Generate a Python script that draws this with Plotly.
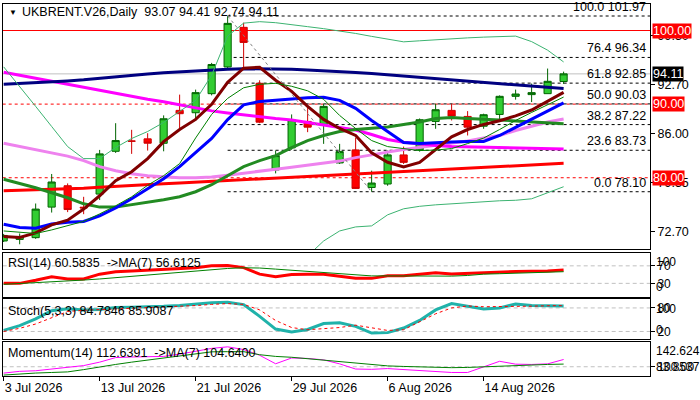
import plotly.graph_objects as go

# Daily bars (weekdays)
dates = ['3 Jul 2026', '6 Jul 2026', '7 Jul 2026', '8 Jul 2026', '9 Jul 2026', '10 Jul 2026',
         '13 Jul 2026', '14 Jul 2026', '15 Jul 2026', '16 Jul 2026', '17 Jul 2026',
         '20 Jul 2026', '21 Jul 2026', '22 Jul 2026', '23 Jul 2026', '24 Jul 2026',
         '27 Jul 2026', '28 Jul 2026', '29 Jul 2026', '30 Jul 2026', '31 Jul 2026',
         '3 Aug 2026', '4 Aug 2026', '5 Aug 2026', '6 Aug 2026', '7 Aug 2026',
         '10 Aug 2026', '11 Aug 2026', '12 Aug 2026', '13 Aug 2026', '14 Aug 2026',
         '17 Aug 2026', '18 Aug 2026', '19 Aug 2026', '20 Aug 2026', '21 Aug 2026']

opens = [71.41, 71.62, 71.86, 76.01, 78.91, 76.00, 77.78, 83.59, 85.00, 85.28, 84.68, 89.15,
         88.83, 91.42, 95.05, 100.43, 92.83, 81.06, 84.06, 87.65, 87.24, 82.01, 83.78, 78.68,
         79.15, 83.10, 83.78, 87.65, 89.15, 88.33, 87.00, 88.60, 91.06, 91.29, 91.42, 93.07]
highs = [72.37, 72.43, 76.50, 80.51, 79.23, 77.41, 83.78, 87.41, 86.51, 86.05, 88.47, 91.29,
         91.97, 95.60, 101.97, 101.06, 93.24, 83.69, 88.60, 89.46, 90.06, 84.60, 85.42, 80.96,
         83.69, 84.23, 88.05, 90.06, 90.06, 89.05, 88.70, 91.19, 91.97, 92.79, 94.83, 94.41]
lows = [71.27, 70.96, 71.70, 75.27, 75.33, 75.05, 76.97, 83.37, 83.24, 83.69, 83.59, 86.42,
        87.78, 91.19, 94.90, 95.05, 87.41, 80.59, 83.80, 86.19, 84.60, 81.87, 78.50, 78.10,
        78.91, 81.87, 83.55, 86.65, 87.78, 85.74, 86.65, 87.78, 90.61, 90.28, 91.42, 92.74]
closes = [72.16, 72.02, 75.74, 79.42, 75.68, 75.90, 83.24, 85.05, 84.96, 84.69, 88.01, 88.70,
          91.56, 95.38, 100.97, 98.38, 87.55, 83.01, 87.88, 86.87, 89.69, 83.55, 78.55, 79.28,
          83.10, 82.09, 87.88, 89.24, 88.37, 86.87, 88.56, 91.06, 91.37, 91.56, 93.10, 94.11]

# moving averages / bands on the price panel
ma_navy = [92.70, 92.80, 92.90, 93.00, 93.15, 93.30, 93.50, 93.75, 93.95, 94.10, 94.25, 94.40,
           94.50, 94.62, 94.75, 94.81, 94.81, 94.78, 94.72, 94.65, 94.55, 94.43, 94.30, 94.15,
           93.98, 93.82, 93.65, 93.45, 93.28, 93.10, 92.90, 92.75, 92.60, 92.45, 92.28, 92.11]
ma_magenta = [94.33, 93.92, 93.44, 93.03, 92.62, 92.22, 91.87, 91.47, 90.99, 90.65, 90.31, 89.90,
              89.49, 89.08, 88.80, 88.53, 88.26, 88.05, 87.85, 87.51, 87.10, 86.76, 86.49, 85.87,
              85.19, 84.82, 84.58, 84.37, 84.23, 84.20, 84.17, 84.10, 84.06, 84.00, 83.96, 83.92]
ma_violet = [84.68, 84.23, 83.76, 83.35, 82.94, 82.32, 81.51, 80.96, 80.55, 80.28, 80.10, 80.01,
             80.01, 80.10, 80.35, 80.59, 80.89, 81.16, 81.44, 81.71, 81.92, 82.26, 82.73, 83.14,
             83.48, 83.83, 84.10, 84.44, 84.64, 84.99, 85.39, 85.74, 86.42, 86.96, 87.58, 87.99]
ma_red = [78.23, 78.29, 78.37, 78.43, 78.48, 78.57, 78.71, 78.85, 78.94, 79.05, 79.19, 79.28,
          79.39, 79.53, 79.66, 79.73, 79.87, 80.01, 80.10, 80.21, 80.32, 80.41, 80.55, 80.66,
          80.76, 80.89, 81.03, 81.12, 81.23, 81.34, 81.44, 81.55, 81.64, 81.74, 81.85, 81.96]
ma_green = [79.80, 79.26, 78.64, 77.96, 77.28, 76.46, 76.01, 76.01, 76.32, 76.73, 77.00, 77.41,
            78.10, 79.05, 80.28, 81.51, 82.32, 83.01, 84.10, 85.05, 85.74, 86.28, 86.55, 86.76,
            86.89, 87.24, 87.58, 88.05, 88.19, 88.05, 87.99, 87.85, 87.71, 87.58, 87.44, 87.33]
ma_blue = [73.69, 73.25, 73.14, 73.73, 73.96, 74.07, 74.82, 75.91, 77.14, 78.50, 79.87, 81.51,
           83.42, 85.33, 87.90, 89.90, 90.37, 90.58, 90.71, 90.85, 90.92, 90.51, 89.42, 87.78,
           86.28, 84.78, 84.64, 84.78, 84.85, 84.92, 84.92, 85.74, 86.83, 87.92, 89.01, 90.17]
ma_maroon = [72.02, 71.89, 72.50, 73.59, 74.23, 75.74, 77.55, 79.60, 80.82, 82.60, 84.90, 86.55,
             87.92, 89.97, 92.97, 94.88, 95.01, 93.24, 91.74, 89.69, 87.92, 86.69, 85.74, 83.40,
             82.10, 81.45, 82.07, 83.80, 85.55, 86.55, 87.24, 87.75, 88.40, 89.20, 90.35, 91.60]
ma_thin = [72.77, 72.57, 72.43, 72.91, 73.46, 74.07, 75.09, 76.19, 77.41, 78.98, 80.28, 81.92,
           85.40, 88.60, 90.78, 92.22, 92.69, 92.83, 92.42, 91.81, 90.65, 88.46, 86.69, 85.05,
           84.23, 83.92, 83.69, 83.76, 83.96, 84.64, 85.39, 86.55, 87.78, 88.87, 89.96, 90.96]
bb_upper = [95.06, 92.42, 89.69, 86.96, 84.23, 82.60, 82.60, 84.10, 85.33, 86.28, 87.51, 89.01,
            90.50, 93.92, 99.24, 101.00, 101.20, 101.06, 100.84, 100.52, 100.25, 99.95, 99.60, 99.20,
            98.79, 98.46, 98.60, 98.75, 98.90, 99.00, 99.10, 99.18, 99.24, 98.49, 97.33, 95.73]
bb_lower = [None, None, None, None, None, None, None, None, None, None, None, None,
            None, None, None, None, None, None, None, 69.37, 71.41, 72.77, 73.32, 73.46,
            74.96, 75.78, 76.12, 76.32, 76.46, 76.64, 76.73, 76.87, 76.94, 77.14, 77.96, 78.78]

# oscillators
rsi = [30.0, 30.0, 37.0, 45.0, 40.0, 40.0, 51.0, 56.5, 58.0, 60.0, 61.0, 62.5,
       65.5, 70.0, 71.0, 66.0, 51.0, 45.0, 50.0, 50.5, 51.0, 46.0, 41.4, 41.4,
       47.3, 47.3, 51.0, 54.0, 51.5, 53.0, 54.0, 56.4, 57.0, 57.5, 58.0, 60.5835]
rsi_ma = [27.7, 29.5, 31.0, 33.0, 35.5, 37.5, 40.0, 43.0, 46.5, 50.0, 53.0, 56.0,
          59.0, 62.0, 64.0, 65.5, 65.0, 62.5, 60.0, 57.5, 55.0, 52.0, 48.5, 47.0,
          47.0, 46.5, 46.5, 46.5, 46.5, 48.0, 51.0, 52.0, 53.5, 54.0, 55.0, 56.6125]
stoch_k = [22.6, 35.0, 52.0, 73.0, 78.0, 75.0, 76.0, 81.0, 82.0, 82.6, 84.0, 85.9,
           90.0, 93.0, 94.4, 88.5, 58.5, 26.0, 18.5, 25.0, 40.0, 42.0, 33.0, 16.0,
           17.0, 28.7, 48.0, 75.0, 91.0, 85.0, 77.4, 80.0, 90.0, 86.5, 85.0, 84.7846]
stoch_d = [20.0, 28.0, 39.0, 55.0, 71.0, 74.0, 75.6, 77.5, 79.0, 80.0, 81.5, 82.6,
           86.0, 89.0, 91.0, 89.0, 75.0, 48.0, 30.0, 24.4, 27.0, 30.0, 36.0, 29.0,
           22.6, 24.4, 45.0, 65.0, 80.0, 85.0, 83.0, 83.0, 83.0, 84.5, 85.5, 85.9087]
momentum = [88.9, 92.0, 93.0, 96.0, 98.5, 102.0, 108.0, 116.0, 117.0, 117.5, 118.0, 122.0,
            127.0, 132.0, 134.7, 130.0, 120.0, 105.2, 115.3, 114.5, 112.0, 105.0, 96.0, 95.5,
            96.8, 95.0, 94.4, 92.0, 90.0, 90.0, 100.0, 109.5, 104.5, 104.0, 105.0, 112.6391]
momentum_ma = [85.5, 87.5, 89.0, 90.0, 91.0, 95.0, 100.0, 104.0, 108.0, 111.5, 114.5, 118.0,
               122.0, 126.0, 126.3, 126.3, 121.0, 118.0, 116.5, 114.0, 112.0, 109.0, 106.0, 104.0,
               101.5, 100.5, 99.5, 98.8, 98.4, 98.8, 100.0, 101.0, 102.0, 103.0, 104.0, 104.64]
momentum_range = [83.8537, 142.624]

# chart objects
fib_pct = [0.0, 23.6, 38.2, 50.0, 61.8, 76.4, 100.0]
fib_price = [78.10, 83.73, 87.22, 90.03, 92.85, 96.34, 101.97]
fib_from = '23 Jul 2026'
fib_to = '5 Aug 2026'
level_solid = [100.00]
level_dashed = [90.00, 80.00]
price_ticks = [72.70, 79.35, 86.00, 92.70, 99.30]
x_labels = ['3 Jul 2026', '13 Jul 2026', '21 Jul 2026', '29 Jul 2026', '6 Aug 2026', '14 Aug 2026']

FONT = 'Liberation Sans'
FS = 12.5
X = list(range(len(dates)))
x_range = [-0.06, 40.4]
XDOM = [2.7 / 700, 650 / 700]


def py(px):
    # pixel row -> paper y
    return 1 - px / 400


fig = go.Figure()

fig.add_trace(go.Candlestick(
    x=X, open=opens, high=highs, low=lows, close=closes, whiskerwidth=0,
    increasing=dict(fillcolor='#32CD32', line=dict(color='#006400', width=1)),
    decreasing=dict(fillcolor='#FF0000', line=dict(color='#D00000', width=1)),
    hoverinfo='skip', showlegend=False))


def line(y, color, width, xa='x', ya='y', dash=None):
    fig.add_trace(go.Scatter(x=X, y=y, mode='lines', xaxis=xa, yaxis=ya,
                             line=dict(color=color, width=width, dash=dash),
                             hoverinfo='skip', showlegend=False))


line(ma_red, '#FF0000', 3)
line(ma_violet, '#EE82EE', 3)
line(ma_magenta, '#FF00FF', 3)
line(ma_navy, '#000080', 3)
line(ma_green, '#228B22', 3)
line(ma_blue, '#0000FF', 3)
line(ma_maroon, '#800000', 3)
line(ma_thin, '#008000', 1)
line(bb_upper, '#3CB371', 1)
line(bb_lower, '#3CB371', 1)

# fibo trend line
i_from, i_to = dates.index(fib_from), dates.index(fib_to)
fig.add_trace(go.Scatter(x=[i_from, i_to], y=[fib_price[-1], fib_price[0]], mode='lines',
                         line=dict(color='#808080', width=1, dash='dot'),
                         hoverinfo='skip', showlegend=False))

line(rsi, '#FF0000', 3, 'x2', 'y2')
line(rsi_ma, '#008000', 1, 'x2', 'y2')
line(stoch_k, '#20B2AA', 3, 'x3', 'y3')
line(stoch_d, '#FF0000', 1, 'x3', 'y3', dash='3px,3px')
line(momentum, '#FF00FF', 1, 'x4', 'y4')
line(momentum_ma, '#008000', 1, 'x4', 'y4')

shapes = []
for lvl in fib_price:
    shapes.append(dict(type='line', xref='x', yref='y', x0=i_from, x1=x_range[1], y0=lvl, y1=lvl,
                       line=dict(color='black', width=1, dash='3px,3px'), layer='below'))
for lvl in level_solid:
    shapes.append(dict(type='line', xref='x domain', yref='y', x0=0, x1=1, y0=lvl, y1=lvl,
                       line=dict(color='#FF0000', width=1), layer='below'))
for lvl in level_dashed:
    shapes.append(dict(type='line', xref='x domain', yref='y', x0=0, x1=1, y0=lvl, y1=lvl,
                       line=dict(color='#FF0000', width=1, dash='3px,3px'), layer='below'))
shapes.append(dict(type='line', xref='x domain', yref='y', x0=0, x1=1, y0=closes[-1], y1=closes[-1],
                   line=dict(color='#C0C0C0', width=1), layer='below'))
for ya, lvls in (('y2', [70, 30]), ('y3', [80, 20]), ('y4', [100])):
    for lvl in lvls:
        shapes.append(dict(type='line', xref='x domain', yref=ya, x0=0, x1=1, y0=lvl, y1=lvl,
                           line=dict(color='#C0C0C0', width=1, dash='4px,3px'), layer='below'))

ann = []
for pct, lvl in zip(fib_pct, fib_price):
    ann.append(dict(text=f'{pct:.1f} {lvl:.2f}', xref='x', x=x_range[1], xanchor='right', xshift=-2,
                    yref='y', y=lvl, yanchor='bottom', showarrow=False))
for lvl in level_solid + level_dashed:
    ann.append(dict(text=f'{lvl:.2f}', xref='paper', x=652 / 700, xanchor='left', yref='y', y=lvl,
                    yanchor='middle', showarrow=False, bgcolor='#FF0000', borderpad=0,
                    font=dict(color='white')))
ann.append(dict(text=f'{closes[-1]:.2f}', xref='paper', x=652 / 700, xanchor='left', yref='y',
                y=closes[-1], yanchor='middle', showarrow=False, bgcolor='black', borderpad=0,
                font=dict(color='white')))

ann.append(dict(text='▼', xref='paper', yref='paper', x=7 / 700, y=py(12), xanchor='left',
                yanchor='middle', showarrow=False, font=dict(size=8)))
ann.append(dict(text=f'UKBRENT.V26,Daily  {opens[-1]:.2f} {highs[-1]:.2f} {lows[-1]:.2f} {closes[-1]:.2f}',
                xref='paper', yref='paper', x=20 / 700, y=py(12), xanchor='left', yanchor='middle',
                showarrow=False))
ann.append(dict(text=f'RSI(14) {rsi[-1]:.4f}  ->MA(7) {rsi_ma[-1]:.4f}', xref='paper', yref='paper',
                x=6 / 700, y=py(263), xanchor='left', yanchor='middle', showarrow=False))
ann.append(dict(text=f'Stoch(5,3,3) {stoch_k[-1]:.4f} {stoch_d[-1]:.4f}', xref='paper', yref='paper',
                x=6 / 700, y=py(311), xanchor='left', yanchor='middle', showarrow=False))
ann.append(dict(text=f'Momentum(14) {momentum[-1]:.4f}  ->MA(7) {momentum_ma[-1]:.4f}', xref='paper',
                yref='paper', x=6 / 700, y=py(353), xanchor='left', yanchor='middle', showarrow=False))

# subpanel scale extremes
for ya, top, bottom in (('y2', 100, 0), ('y3', 100, 0), ('y4', momentum_range[1], momentum_range[0])):
    top_txt = f'{top:g}' if ya != 'y4' else f'{top:.3f}'
    bot_txt = f'{bottom:g}' if ya != 'y4' else f'{bottom:.4f}'
    ann.append(dict(text=top_txt, xref='paper', x=654 / 700, xanchor='left', yref=ya, y=top,
                    yanchor='top', showarrow=False, font=dict(size=12)))
    ann.append(dict(text=bot_txt, xref='paper', x=654 / 700, xanchor='left', yref=ya, y=bottom,
                    yanchor='bottom', showarrow=False, font=dict(size=12)))

frame = dict(showgrid=False, zeroline=False, showline=True, mirror=True, linecolor='black', linewidth=1)
yframe = dict(frame, side='right', ticks='outside', ticklen=4, tickcolor='black')

fig.update_layout(
    width=700, height=400, margin=dict(l=0, r=0, t=0, b=0), autosize=False,
    paper_bgcolor='white', plot_bgcolor='white', showlegend=False, boxgap=0.36,
    font=dict(family=FONT, size=FS, color='black'),
    xaxis=dict(frame, domain=XDOM, range=x_range, anchor='y', showticklabels=False,
               rangeslider=dict(visible=False)),
    xaxis2=dict(frame, domain=XDOM, matches='x', anchor='y2', showticklabels=False),
    xaxis3=dict(frame, domain=XDOM, matches='x', anchor='y3', showticklabels=False),
    xaxis4=dict(frame, domain=XDOM, matches='x', anchor='y4', ticks='outside', ticklen=4,
                tickcolor='black', tickvals=[dates.index(d) for d in x_labels], ticktext=x_labels,
                ticklabelposition='outside right'),
    yaxis=dict(yframe, domain=[py(249), py(4)], range=[70.32, 103.6], anchor='x',
               tickvals=price_ticks, ticktext=[f'{v:.2f}' for v in price_ticks]),
    yaxis2=dict(yframe, domain=[py(296.7), py(252.7)], range=[-0.5, 100], anchor='x2',
                tickvals=[70, 30], tickfont=dict(size=12)),
    yaxis3=dict(yframe, domain=[py(339.3), py(299.3)], range=[0, 102], anchor='x3',
                tickvals=[80, 20], tickfont=dict(size=12)),
    yaxis4=dict(yframe, domain=[py(376), py(342.3)], range=momentum_range, anchor='x4',
                tickvals=[100], ticktext=['100.00'], tickfont=dict(size=12)),
    shapes=shapes, annotations=ann,
)

fig.write_html('out.html', config={'displayModeBar': False},
               post_script="document.body.style.margin='0';")
